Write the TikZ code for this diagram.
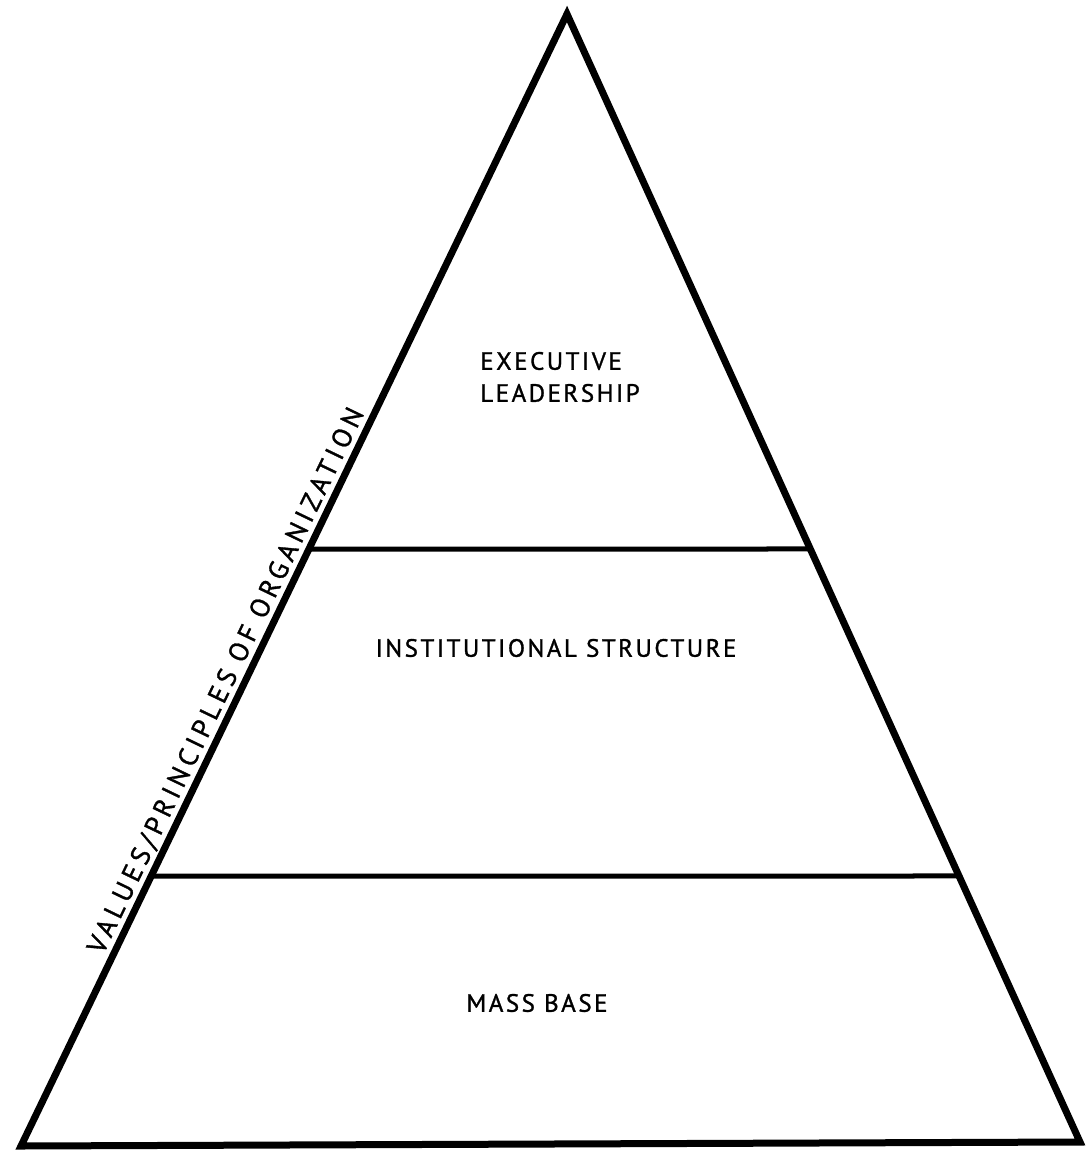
\documentclass[tikz,border=0pt]{standalone}
\usepackage{fontspec}
\newfontfamily\lblfont[LetterSpace=10,FakeBold=1.2]{PT Sans}
\newfontfamily\sidefont[LetterSpace=17,FakeBold=1.2]{PT Sans}
\begin{document}
\begin{tikzpicture}[x=1pt,y=-1pt,
  side/.style={line width=7pt, line join=miter},
  divider/.style={line width=5pt},
  tierlabel/.style={font=\lblfont\fontsize{25}{32}\selectfont, inner sep=0pt},
  sidelabel/.style={font=\sidefont\fontsize{27}{30}\selectfont, inner sep=5pt}]
\useasboundingbox (0,0) rectangle (1087,1153);
\coordinate (apex) at (567,14);
\coordinate (bl) at (21,1146);
\coordinate (br) at (1080,1142);
\coordinate (h1a) at (0,549);
\coordinate (h1b) at (1087,549);
\coordinate (h2a) at (0,876);
\coordinate (h2b) at (1087,876);
\coordinate (d1l) at (intersection of bl--apex and h1a--h1b);
\coordinate (d1r) at (intersection of br--apex and h1a--h1b);
\coordinate (d2l) at (intersection of bl--apex and h2a--h2b);
\coordinate (d2r) at (intersection of br--apex and h2a--h2b);
\draw[side] (bl) -- (apex) -- (br) -- cycle;
\draw[divider] (d1l) -- (d1r);
\draw[divider] (d2l) -- (d2r);
\path (bl) -- (apex) node[sidelabel, sloped, anchor=south east, pos=0.648] (side) {VALUES/PRINCIPLES OF ORGANIZATION};
\node[tierlabel, align=left] (exec) at (560,377) {EXECUTIVE\\LEADERSHIP};
\node[tierlabel] (inst) at (556,648) {INSTITUTIONAL STRUCTURE};
\node[tierlabel] (mass) at (537,1003) {MASS BASE};
\end{tikzpicture}
\end{document}
